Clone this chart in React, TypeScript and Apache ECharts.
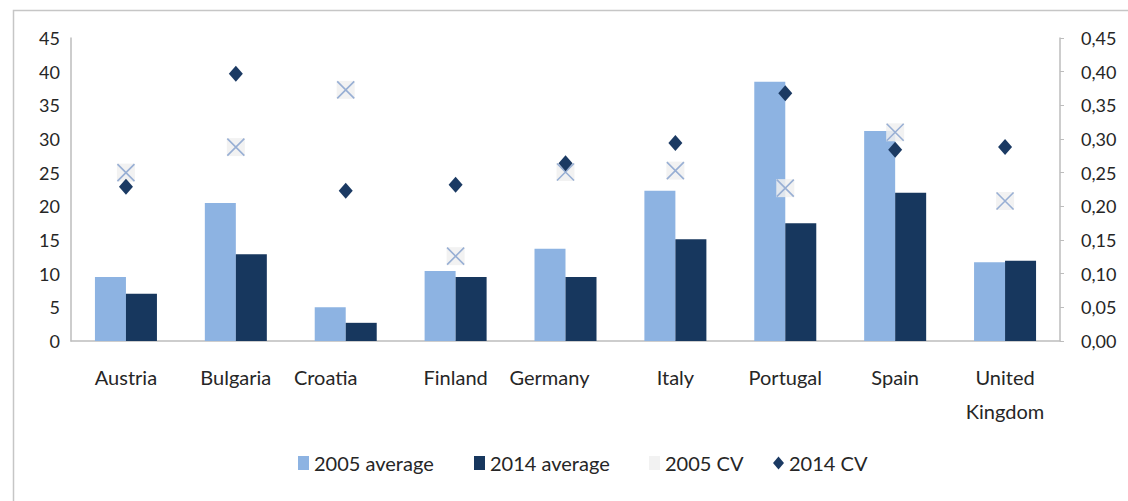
import React, { useEffect, useRef } from "react";
import * as echarts from "echarts";

// Countries on the category axis
const countries = [
  "Austria",
  "Bulgaria",
  "Croatia",
  "Finland",
  "Germany",
  "Italy",
  "Portugal",
  "Spain",
  "United\nKingdom",
];

// Average values (left axis)
const avg2005 = [9.5, 20.5, 5.0, 10.4, 13.7, 22.3, 38.5, 31.2, 11.7];
const avg2014 = [7.0, 12.9, 2.7, 9.5, 9.5, 15.1, 17.5, 22.0, 11.9];

// Coefficients of variation (right axis)
const cv2005 = [0.25, 0.288, 0.373, 0.126, 0.251, 0.253, 0.227, 0.31, 0.208];
const cv2014 = [0.229, 0.397, 0.223, 0.232, 0.264, 0.294, 0.368, 0.284, 0.288];

// Axis ranges
const leftMax = 45;
const leftStep = 5;
const rightMax = 0.45;
const rightStep = 0.05;

const FONT = "Lato, 'Open Sans', sans-serif";
const LIGHT = "#8db3e2";
const DARK = "#17375e";
const TEXT = "#262626";
const AXIS = "#bdbdbd";

// Small horizontal nudges for a few category labels
const labelShift: Record<string, number> = { Croatia: -20, Germany: -16 };

export default function App() {
  const ref = useRef<HTMLDivElement>(null);

  useEffect(() => {
    document.body.style.margin = "0";
    if (!ref.current) return;
    const chart = echarts.init(ref.current, null, { renderer: "svg" });

    const legendText = {
      fontFamily: FONT,
      fontSize: 20,
      color: TEXT,
    };

    chart.setOption({
      animation: false,
      backgroundColor: "#ffffff",
      graphic: [
        {
          type: "rect",
          left: 11,
          top: 8,
          shape: { width: 1300, height: 700 },
          style: { fill: "none", stroke: "#c6c6c6", lineWidth: 1.5 },
          silent: true,
        },
      ],
      grid: { left: 71, right: 68, top: 38, bottom: 160 },
      legend: [
        {
          left: 293,
          top: 448,
          data: [{ name: "2005 average", icon: "rect" }],
          itemWidth: 11,
          itemHeight: 14,
          textStyle: legendText,
        },
        {
          left: 469,
          top: 448,
          data: [{ name: "2014 average", icon: "rect" }],
          itemWidth: 11,
          itemHeight: 14,
          textStyle: legendText,
        },
        {
          left: 644,
          top: 448,
          data: [{ name: "2005 CV", icon: "rect" }],
          itemWidth: 11,
          itemHeight: 14,
          textStyle: legendText,
        },
        {
          left: 768,
          top: 448,
          data: [{ name: "2014 CV", icon: "diamond" }],
          itemWidth: 11,
          itemHeight: 13,
          textStyle: legendText,
        },
      ],
      xAxis: {
        type: "category",
        data: countries,
        axisLine: { show: true, lineStyle: { color: AXIS, width: 1.5 } },
        axisTick: { show: false },
        axisLabel: {
          interval: 0,
          margin: 19,
          fontFamily: FONT,
          fontSize: 20,
          color: TEXT,
          lineHeight: 34,
          formatter: (v: string) =>
            labelShift[v] !== undefined ? `{s${v}|${v}}` : v,
          rich: Object.fromEntries(
            Object.entries(labelShift).map(([k, d]) => [
              `s${k}`,
              {
                fontFamily: FONT,
                fontSize: 20,
                color: TEXT,
                lineHeight: 34,
                padding: [0, -2 * d, 0, 0],
              },
            ])
          ),
        },
      },
      yAxis: [
        {
          type: "value",
          min: 0,
          max: leftMax,
          interval: leftStep,
          splitLine: { show: false },
          axisLine: { show: true, lineStyle: { color: AXIS, width: 1.5 } },
          axisTick: { show: false },
          axisLabel: {
            margin: 11,
            fontFamily: FONT,
            fontSize: 18,
            color: TEXT,
          },
        },
        {
          type: "value",
          min: 0,
          max: rightMax,
          interval: rightStep,
          position: "right",
          splitLine: { show: false },
          axisLine: { show: true, lineStyle: { color: AXIS, width: 1.5 } },
          axisTick: { show: true, length: 4, lineStyle: { color: AXIS } },
          axisLabel: {
            margin: 21,
            fontFamily: FONT,
            fontSize: 18,
            color: TEXT,
            formatter: (v: number) => v.toFixed(2).replace(".", ","),
          },
        },
      ],
      series: [
        {
          name: "2005 average",
          type: "bar",
          data: avg2005,
          barWidth: 31,
          barGap: "0%",
          itemStyle: { color: LIGHT },
        },
        {
          name: "2014 average",
          type: "bar",
          data: avg2014,
          barWidth: 31,
          barGap: "0%",
          itemStyle: { color: DARK },
        },
        {
          name: "2005 CV",
          type: "scatter",
          yAxisIndex: 1,
          data: cv2005,
          symbol: "rect",
          symbolSize: 18,
          itemStyle: { color: "#f0f0f0", opacity: 0.85 },
          z: 3,
        },
        {
          name: "2005 CV mark",
          type: "scatter",
          yAxisIndex: 1,
          data: cv2005,
          symbol: "path://M0,0L10,10M10,0L0,10",
          symbolSize: 17,
          itemStyle: {
            color: "none",
            borderColor: "#98afd4",
            borderWidth: 1.6,
            opacity: 1,
          },
          z: 4,
        },
        {
          name: "2014 CV",
          type: "scatter",
          yAxisIndex: 1,
          data: cv2014,
          symbol: "diamond",
          symbolSize: [14, 16],
          itemStyle: { color: "#1b3a63", opacity: 1 },
          z: 5,
        },
      ],
    });

    return () => chart.dispose();
  }, []);

  return <div ref={ref} style={{ width: 1128, height: 501 }} />;
}
